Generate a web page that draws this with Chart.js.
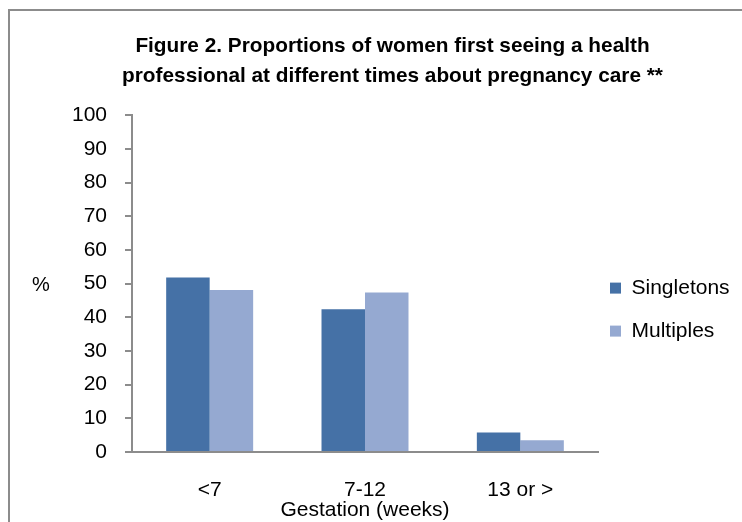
<!DOCTYPE html>
<html>
<head>
<meta charset="utf-8">
<script src="https://cdn.jsdelivr.net/npm/chart.js@4/dist/chart.umd.min.js"></script>
<style>
  html, body { margin: 0; padding: 0; background: #fff; }
  #wrap { position: relative; width: 742px; height: 522px; overflow: hidden; }
  #frame {
    position: absolute; left: 8px; top: 9px; width: 800px; height: 600px;
    border-left: 2px solid #8c8c8c; border-top: 2px solid #8c8c8c;
    pointer-events: none;
  }
  canvas { position: absolute; left: 0; top: 0; }
</style>
</head>
<body>
<div id="wrap">
  <canvas id="chart" width="742" height="522"></canvas>
  <div id="frame"></div>
</div>
<script>
const categories = ['<7', '7-12', '13 or >'];
const singletons = [51.8, 42.4, 5.8];
const multiples = [48.1, 47.4, 3.5];
const yTicks = [0, 10, 20, 30, 40, 50, 60, 70, 80, 90, 100];

const FONT = "'Liberation Sans', Arial, sans-serif";
const AXIS_GREY = '#8c8c8c';

// "%" sits horizontally left of the y axis, the x title just under the tick labels
const axisLabels = {
  id: 'axisLabels',
  afterLayout(chart) {
    // pull the legend a little closer to the plot
    chart.legend.left -= 10;
    chart.legend.right -= 10;
  },
  afterDraw(chart) {
    const { ctx, chartArea } = chart;
    ctx.save();
    ctx.fillStyle = '#000';
    ctx.textAlign = 'center';
    ctx.textBaseline = 'middle';
    ctx.font = "20px " + FONT;
    ctx.fillText('%', chartArea.left - 91, (chartArea.top + chartArea.bottom) / 2 + 2);
    ctx.font = "21px " + FONT;
    ctx.fillText('Gestation (weeks)', (chartArea.left + chartArea.right) / 2, chartArea.bottom + 58);
    ctx.restore();
  }
};

const ctx = document.getElementById('chart').getContext('2d');
new Chart(ctx, {
  type: 'bar',
  data: {
    labels: categories,
    datasets: [
      {
        label: 'Singletons',
        data: singletons,
        backgroundColor: '#4571a6',
        borderWidth: 0
      },
      {
        label: 'Multiples',
        data: multiples,
        backgroundColor: '#95a9d1',
        borderWidth: 0
      }
    ]
  },
  options: {
    responsive: false,
    animation: false,
    layout: {
      padding: { left: 43, right: 0, top: 0, bottom: 0 }
    },
    datasets: {
      bar: { categoryPercentage: 0.56, barPercentage: 1.0 }
    },
    plugins: {
      title: {
        display: true,
        text: ['Figure 2. Proportions of women first seeing a health',
               'professional at different times about pregnancy care **'],
        font: { family: FONT, size: 20.8, weight: 'bold', lineHeight: 1.45 },
        color: '#000',
        padding: { top: 31, bottom: 24 }
      },
      legend: {
        position: 'right',
        align: 'center',
        maxWidth: 144,
        title: { display: true, text: ' ', padding: 0, font: { size: 81 } },
        labels: {
          boxWidth: 11,
          boxHeight: 11,
          padding: 22,
          color: '#000',
          font: { family: FONT, size: 21 }
        }
      },
      tooltip: { enabled: false }
    },
    scales: {
      x: {
        afterFit(scale) { scale.height = 70; },
        grid: { display: false },
        border: { display: true, color: AXIS_GREY, width: 2 },
        ticks: {
          color: '#000',
          padding: 18,
          font: { family: FONT, size: 21 }
        }
      },
      y: {
        min: 0,
        max: 100,
        afterFit(scale) { scale.width = 89; },
        afterBuildTicks(scale) {
          scale.ticks = yTicks.map(v => ({ value: v }));
        },
        grid: {
          display: true,
          drawOnChartArea: false,
          drawTicks: true,
          tickLength: 7,
          color: AXIS_GREY,
          lineWidth: 2
        },
        border: { display: true, color: AXIS_GREY, width: 2 },
        ticks: {
          color: '#000',
          padding: 18,
          font: { family: FONT, size: 21 }
        }
      }
    }
  },
  plugins: [axisLabels]
});
</script>
</body>
</html>
